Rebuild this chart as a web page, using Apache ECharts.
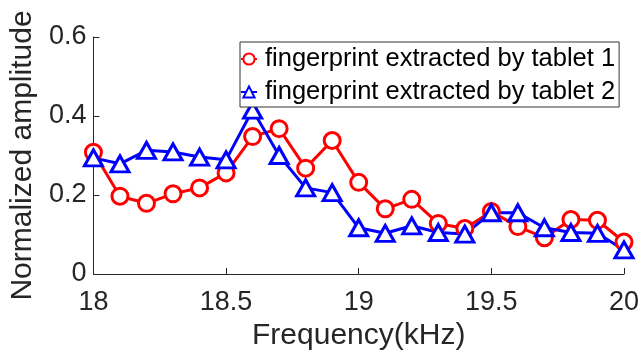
<!DOCTYPE html>
<html>
<head>
<meta charset="utf-8">
<script src="https://cdn.jsdelivr.net/npm/echarts@6/dist/echarts.min.js"></script>
<style>
  html, body { margin: 0; padding: 0; background: #fff; }
  #chart { width: 642px; height: 356px; }
</style>
</head>
<body>
<div id="chart"></div>
<script>
// frequency steps (kHz)
var freq = [18.0, 18.1, 18.2, 18.3, 18.4, 18.5, 18.6, 18.7, 18.8, 18.9, 19.0,
            19.1, 19.2, 19.3, 19.4, 19.5, 19.6, 19.7, 19.8, 19.9, 20.0];
// tablet 1 (red circles)
var tablet1 = [0.308, 0.197, 0.179, 0.203, 0.218, 0.256, 0.348, 0.368, 0.268, 0.338, 0.232,
               0.165, 0.189, 0.128, 0.115, 0.158, 0.120, 0.092, 0.138, 0.136, 0.081];
// tablet 2 (blue triangles)
var tablet2 = [0.294, 0.279, 0.313, 0.309, 0.296, 0.289, 0.415, 0.300, 0.218, 0.206, 0.117,
               0.103, 0.122, 0.105, 0.101, 0.155, 0.155, 0.117, 0.105, 0.103, 0.061];
var names = ['fingerprint extracted by tablet 1', 'fingerprint extracted by tablet 2'];

function pairs(ys) {
    return freq.map(function (x, i) { return [x, ys[i]]; });
}

var myChart = echarts.init(document.getElementById('chart'));
var font = "'Liberation Sans', Arial, Helvetica, sans-serif";
var axisColor = '#262626';

var option = {
    animation: false,
    grid: { left: 90, right: 14, top: 37, bottom: 81 },
    legend: {
        orient: 'vertical',
        left: 240,
        top: 42,
        padding: [3, 4, 1, 0],
        itemGap: 5,
        itemWidth: 16,
        itemHeight: 14,
        borderColor: '#333',
        borderWidth: 1,
        backgroundColor: '#fff',
        textStyle: {
            fontFamily: font, fontSize: 25.5, color: '#000',
            lineHeight: 28, padding: [0, 0, 0, 3]
        },
        data: names
    },
    xAxis: {
        type: 'value',
        min: 18, max: 20, interval: 0.5,
        name: 'Frequency(kHz)',
        nameLocation: 'middle',
        nameGap: 47,
        nameTextStyle: { fontFamily: font, fontSize: 30, color: axisColor },
        axisLine: { lineStyle: { color: axisColor, width: 1 } },
        axisTick: { inside: true, length: 6, lineStyle: { color: axisColor } },
        axisLabel: { fontFamily: font, fontSize: 27, color: axisColor, margin: 15 },
        splitLine: { show: false }
    },
    yAxis: {
        type: 'value',
        min: 0, max: 0.6, interval: 0.2,
        name: 'Normalized amplitude',
        nameLocation: 'middle',
        nameRotate: 90,
        nameGap: 51,
        nameTextStyle: { fontFamily: font, fontSize: 30, color: axisColor },
        axisLine: { show: true, lineStyle: { color: axisColor, width: 1 } },
        axisTick: { show: true, inside: true, length: 6, lineStyle: { color: axisColor } },
        axisLabel: { fontFamily: font, fontSize: 27, color: axisColor, margin: 7 },
        splitLine: { show: false }
    },
    series: [
        {
            name: names[0],
            type: 'line',
            data: pairs(tablet1),
            symbol: 'circle',
            symbolSize: 16,
            lineStyle: { width: 3, color: '#ff0000' },
            itemStyle: { color: '#fff', borderColor: '#ff0000', borderWidth: 3 }
        },
        {
            name: names[1],
            type: 'line',
            data: pairs(tablet2),
            symbol: 'triangle',
            symbolSize: [18, 16],
            lineStyle: { width: 3, color: '#0000ff' },
            itemStyle: { color: '#fff', borderColor: '#0000ff', borderWidth: 3 }
        }
    ]
};

myChart.setOption(option);
</script>
</body>
</html>
